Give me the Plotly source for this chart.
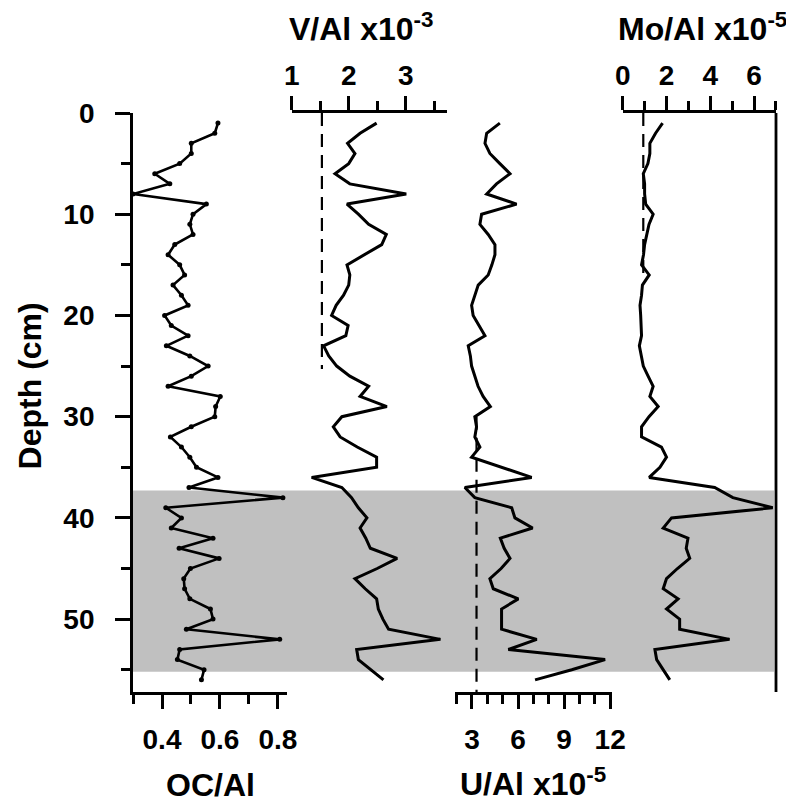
import plotly.graph_objects as go

depth = list(range(1, 57))

oc_al = [0.593, 0.582, 0.501, 0.501, 0.461, 0.375, 0.427, 0.300, 0.553, 0.507,
         0.496, 0.507, 0.444, 0.421, 0.461, 0.478, 0.438, 0.467, 0.490, 0.409,
         0.432, 0.490, 0.415, 0.496, 0.559, 0.501, 0.421, 0.601, 0.585, 0.582,
         0.501, 0.429, 0.467, 0.496, 0.519, 0.593, 0.493, 0.817, 0.413, 0.467,
         0.432, 0.576, 0.459, 0.597, 0.498, 0.475, 0.478, 0.496, 0.567, 0.576,
         0.484, 0.806, 0.461, 0.453, 0.545, 0.536]

v_al = [2.49, 2.20, 1.98, 2.11, 2.00, 1.76, 2.02, 3.01, 1.97, 2.17,
        2.35, 2.66, 2.58, 2.27, 1.97, 2.02, 2.00, 1.91, 1.78, 1.70,
        1.99, 1.95, 1.56, 1.65, 1.79, 2.02, 2.35, 2.20, 2.67, 1.88,
        1.73, 1.85, 2.15, 2.49, 2.49, 1.35, 1.88, 2.05, 2.17, 2.32,
        2.20, 2.30, 2.38, 2.85, 2.50, 2.11, 2.29, 2.49, 2.52, 2.60,
        2.70, 3.61, 2.14, 2.17, 2.38, 2.61]

u_al = [4.82, 3.96, 3.85, 4.17, 4.82, 5.48, 4.60, 3.96, 5.91, 3.63,
        3.52, 4.06, 4.50, 4.50, 4.30, 4.06, 3.41, 3.19, 2.98, 3.08,
        3.45, 3.85, 2.76, 2.90, 2.98, 3.19, 3.40, 3.73, 4.20, 3.19,
        3.30, 3.19, 3.52, 2.98, 5.00, 6.89, 2.54, 3.19, 5.59, 5.80,
        6.95, 4.85, 5.10, 5.48, 4.90, 4.17, 4.39, 6.02, 4.93, 4.93,
        4.93, 7.22, 5.37, 11.67, 9.50, 7.11]

mo_al = [1.82, 1.50, 1.24, 1.24, 1.15, 0.94, 1.00, 1.00, 1.05, 1.39,
         1.20, 1.09, 1.00, 0.95, 0.86, 1.21, 0.90, 0.86, 0.79, 0.82,
         0.85, 0.86, 0.76, 0.85, 0.94, 1.16, 1.39, 1.24, 1.62, 1.20,
         0.86, 0.86, 1.77, 2.00, 1.70, 1.21, 4.20, 5.03, 6.85, 2.23,
         1.85, 2.98, 2.90, 3.06, 2.50, 2.00, 1.85, 2.53, 2.00, 2.60,
         2.60, 4.88, 1.47, 1.55, 1.85, 2.15]

# reference (dashed) lines: value and depth extent
v_ref_val = [1.53, 1.53]
v_ref_depth = [0, 25.3]
u_ref_val = [3.3, 3.3]
u_ref_depth = [30, 57.2]
mo_ref_val = [0.94, 0.94]
mo_ref_depth = [0, 16.4]

shade_depth = [37.3, 55.2]

FONT = "Liberation Sans, Arial, sans-serif"
FS = 28      # tick labels
TFS = 32     # axis titles
LW = 2.8
BLACK = "#000000"

fig = go.Figure()

fig.add_trace(go.Scatter(x=oc_al, y=depth, xaxis="x", yaxis="y", mode="lines+markers",
                         line=dict(color=BLACK, width=2.6), marker=dict(size=5, color=BLACK),
                         cliponaxis=False, showlegend=False))
fig.add_trace(go.Scatter(x=v_al, y=depth, xaxis="x2", yaxis="y", mode="lines",
                         line=dict(color=BLACK, width=3), showlegend=False))
fig.add_trace(go.Scatter(x=v_ref_val, y=v_ref_depth, xaxis="x2", yaxis="y", mode="lines",
                         line=dict(color=BLACK, width=2.2, dash="13px,8px"), showlegend=False))
fig.add_trace(go.Scatter(x=u_al, y=depth, xaxis="x3", yaxis="y", mode="lines",
                         line=dict(color=BLACK, width=3), showlegend=False))
fig.add_trace(go.Scatter(x=u_ref_val, y=u_ref_depth, xaxis="x3", yaxis="y", mode="lines",
                         line=dict(color=BLACK, width=2.2, dash="13px,8px"), showlegend=False))
fig.add_trace(go.Scatter(x=mo_al, y=depth, xaxis="x4", yaxis="y", mode="lines",
                         line=dict(color=BLACK, width=3), showlegend=False))
fig.add_trace(go.Scatter(x=mo_ref_val, y=mo_ref_depth, xaxis="x4", yaxis="y", mode="lines",
                         line=dict(color=BLACK, width=2.2, dash="13px,8px"), showlegend=False))

tickfont = dict(family=FONT, size=FS, color=BLACK, weight="bold")


def xax(domain, rng, side, tick0, dtick, mtick0, mdtick, standoff):
    return dict(domain=domain, range=rng, side=side, anchor="y", automargin=False,
                showline=True, linewidth=LW, linecolor=BLACK, mirror=False,
                showgrid=False, zeroline=False,
                ticks="outside", ticklen=14, tickwidth=LW, tickcolor=BLACK,
                tickmode="linear", tick0=tick0, dtick=dtick,
                tickfont=tickfont, ticklabelstandoff=standoff,
                minor=dict(ticks="outside", ticklen=9, tickwidth=LW, tickcolor=BLACK,
                           tick0=mtick0, dtick=mdtick, showgrid=False))


# plot area is 643 x 579 px; page body adds an 8px margin on every side
fig.update_layout(
    template="none",
    width=778, height=794,
    margin=dict(l=125, r=10, t=105, b=110, pad=0),
    paper_bgcolor="white", plot_bgcolor="white",
    font=dict(family=FONT, size=FS, color=BLACK),
    xaxis=xax([0, 0.239], [0.3, 0.83], "bottom", 0.4, 0.2, 0.3, 0.1, 6),
    xaxis2=xax([0.2468, 0.4879], [1, 3.72], "top", 1, 1, 1, 0.5, 0),
    xaxis3=xax([0.5008, 0.7445], [1.9, 12.1], "bottom", 3, 3, 2, 1, 6),
    xaxis4=xax([0.7616, 1.0], [0, 7], "top", 0, 2, 0, 1, 0),
    yaxis=dict(range=[57.2, 0], anchor="x", automargin=False, showline=True, linewidth=LW,
               linecolor=BLACK, showgrid=False, zeroline=False, ticks="outside", ticklen=15,
               tickwidth=LW, tickcolor=BLACK, tickmode="linear", tick0=0, dtick=10,
               tickfont=tickfont, ticklabelstandoff=15,
               minor=dict(ticks="outside", ticklen=9, tickwidth=LW, tickcolor=BLACK,
                          tick0=0, dtick=5, showgrid=False)),
    shapes=[
        dict(type="rect", xref="paper", yref="y", x0=0, x1=0.997,
             y0=shade_depth[0], y1=shade_depth[1], fillcolor="#c0c0c0",
             line=dict(width=0), layer="below"),
        dict(type="line", xref="paper", yref="paper", x0=1, x1=1, y0=0, y1=1,
             line=dict(color=BLACK, width=LW)),
    ],
    annotations=[
        dict(text="<b>Depth (cm)</b>", xref="paper", yref="y", x=-0.160, y=27,
             textangle=-90, showarrow=False, font=dict(size=TFS), xanchor="center", yanchor="middle"),
        dict(text="<b>OC/Al</b>", xref="paper", yref="paper", x=(210 - 133) / 643,
             y=-(785 - 692) / 579, showarrow=False, font=dict(size=TFS),
             xanchor="center", yanchor="middle"),
        dict(text="<b>U/Al x10<sup>-5</sup></b>", xref="paper", yref="paper", x=(533 - 133) / 643,
             y=-(782 - 692) / 579, showarrow=False, font=dict(size=TFS),
             xanchor="center", yanchor="middle"),
        dict(text="<b>V/Al x10<sup>-3</sup></b>", xref="paper", yref="paper", x=(361 - 133) / 643,
             y=1 + (113 - 27) / 579, showarrow=False, font=dict(size=TFS),
             xanchor="center", yanchor="middle"),
        dict(text="<b>Mo/Al x10<sup>-5</sup></b>", xref="paper", yref="paper", x=(702 - 133) / 643,
             y=1 + (113 - 27) / 579, showarrow=False, font=dict(size=TFS),
             xanchor="center", yanchor="middle"),
    ],
)

fig.write_html("out.html")
